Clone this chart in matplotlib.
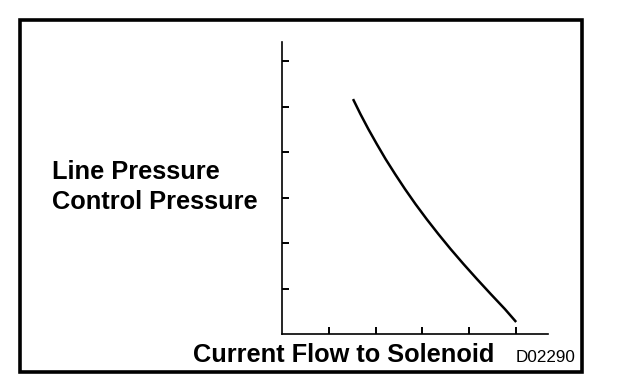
import matplotlib
matplotlib.use("Agg")
import matplotlib.pyplot as plt
from matplotlib.patches import Rectangle

# Data (arbitrary units)
current = [1.517, 1.675, 1.844, 2.024, 2.212, 2.415, 2.626, 2.850, 3.088,
           3.338, 3.600, 3.876, 4.162, 4.457, 4.759, 5.000]
pressure = [5.165, 4.835, 4.505, 4.176, 3.846, 3.516, 3.187, 2.857, 2.527,
            2.198, 1.868, 1.538, 1.209, 0.879, 0.549, 0.264]
x_ticks = [1, 2, 3, 4, 5]
y_ticks = [1, 2, 3, 4, 5, 6]
y_label_lines = ["Line Pressure", "Control Pressure"]
x_label = "Current Flow to Solenoid"
code_label = "D02290"

plt.rcParams['font.family'] = ['Liberation Sans', 'DejaVu Sans']

W, H = 624, 392
fig = plt.figure(figsize=(W / 100, H / 100), dpi=100)
fig.patch.set_facecolor("white")

# outer frame
fig.patches.append(Rectangle((20 / W, 1 - 371.5 / H), (581.5 - 20) / W, (371.5 - 19.5) / H,
                             transform=fig.transFigure, fill=False, edgecolor="black",
                             linewidth=2.6))

ax = fig.add_axes([282 / W, 1 - 334 / H, (548 - 282) / W, (334 - 42) / H])
ax.plot(current, pressure, color="black", linewidth=1.8, solid_capstyle="butt",
        solid_joinstyle="round")
ax.set_xlim(0, 5.68)
ax.set_ylim(0, 6.42)
ax.set_xticks(x_ticks)
ax.set_yticks(y_ticks)
ax.set_xticklabels([])
ax.set_yticklabels([])
ax.tick_params(direction="in", length=5, width=1.4, color="black")
for s in ["top", "right"]:
    ax.spines[s].set_visible(False)
for s in ["left", "bottom"]:
    ax.spines[s].set_linewidth(1.2)
ax.set_facecolor("none")

fs = 18.3
fig.text(52 / W, 1 - 179 / H, y_label_lines[0], fontsize=fs, fontweight="bold",
         ha="left", va="baseline")
fig.text(52 / W, 1 - 209 / H, y_label_lines[1], fontsize=fs, fontweight="bold",
         ha="left", va="baseline")
fig.text(193 / W, 1 - 362 / H, x_label, fontsize=fs, fontweight="bold",
         ha="left", va="baseline")
fig.text(516 / W, 1 - 362 / H, code_label, fontsize=12.3, ha="left", va="baseline")

fig.savefig("out.png", dpi=100)
